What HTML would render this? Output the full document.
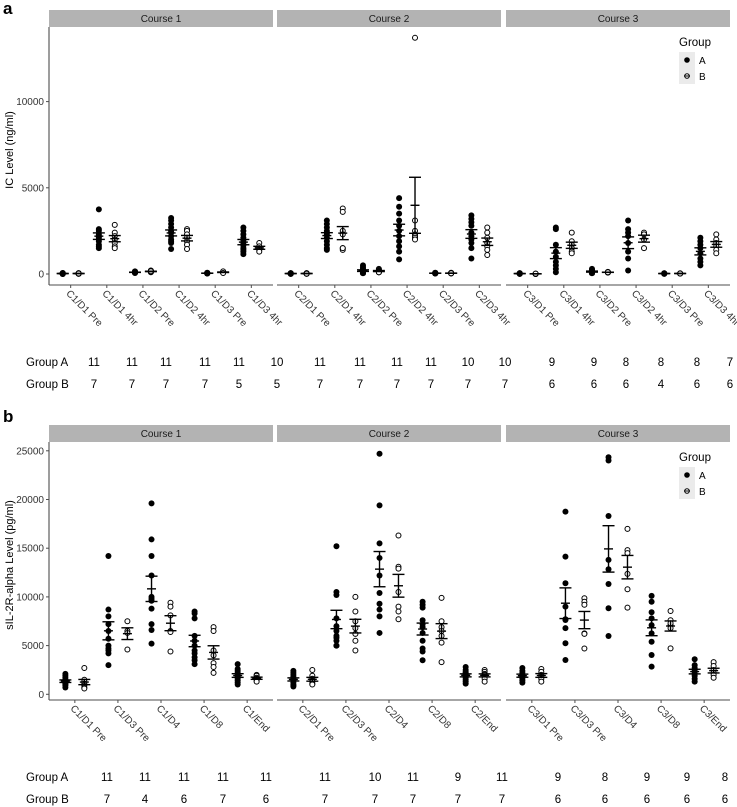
<!DOCTYPE html>
<html><head><meta charset="utf-8">
<style>
body{margin:0;background:#fff;}
svg{display:block;font-family:"Liberation Sans",Arial,sans-serif;}
.tk{font-size:10px;fill:#333;}
.tbl{font-size:11.5px;fill:#000;}
.strip{font-size:10px;fill:#1a1a1a;}
</style></head>
<body>
<svg id="chart" width="737" height="807" viewBox="0 0 737 807">
<text x="3" y="14" font-size="17" font-weight="bold">a</text>
<text x="3" y="422" font-size="17" font-weight="bold">b</text>
<text transform="translate(13,150) rotate(-90)" text-anchor="middle" font-size="11">IC Level (ng/ml)</text>
<text transform="translate(13,565) rotate(-90)" text-anchor="middle" font-size="11">sIL-2R-alpha Level (pg/ml)</text>
<g id="top"></g>
<g id="bot"></g>
<g>
<text class="tbl" x="26" y="366">Group A</text>
<text class="tbl" x="26" y="388">Group B</text>
</g>
<g>
<text class="tbl" x="26" y="781">Group A</text>
<text class="tbl" x="26" y="803">Group B</text>
</g>
</svg>
<script>
// ---------- data: panel a (IC level) ----------
const topCats = [
 ["C1/D1 Pre","C1/D1 4hr","C1/D2 Pre","C1/D2 4hr","C1/D3 Pre","C1/D3 4hr"],
 ["C2/D1 Pre","C2/D1 4hr","C2/D2 Pre","C2/D2 4hr","C2/D3 Pre","C2/D3 4hr"],
 ["C3/D1 Pre","C3/D1 4hr","C3/D2 Pre","C3/D2 4hr","C3/D3 Pre","C3/D3 4hr"]];
const topA = [
 [[0,10,20,30,40,50,20,10,30,40,60],[3750,2600,2500,2300,2100,2000,1900,1700,1600,1500,2200],[100,80,120,150,60,90,110,70,130,100,90],[3250,3100,2900,2700,2500,2400,2200,2000,1900,1800,1450],[50,40,60,30,70,50,40,60,50,30,40],[2700,2500,2300,2100,1950,1800,1650,1500,1400,1300,1150]],
 [[30,20,40,10,50,30,20,40,30,20,10],[3100,2900,2700,2500,2400,2300,2100,1900,1700,1500,1400],[500,400,300,250,200,150,100,100,50,50,50],[4400,3900,3500,3100,2800,2500,2200,1900,1600,1300,850],[50,40,60,30,70,50,40,60,50,30,40],[3400,3200,3000,2800,2400,2200,2000,1800,1500,900]],
 [[20,30,10,40,20,30,50,10,20],[2700,2600,1700,1300,1000,700,500,300,100],[300,250,200,150,100,100,50,50,50],[3100,2600,2400,2200,1800,1300,900,200],[30,20,40,10,30,20,40,30],[2100,1900,1700,1500,1200,900,700,500]]
];
const topB = [
 [[20,30,10,40,20,50,30],[2850,2400,2200,2000,1800,1600,1500],[150,120,180,200,100,140,160],[2600,2500,2300,2100,1900,1700,1450],[100,80,120,150,60],[1800,1600,1500,1400,1300]],
 [[30,20,40,10,50,30,20],[3800,3600,2500,2300,1500,1400,1500],[300,250,200,150,100,100,100],[13700,3100,2500,2300,2200,2100,2000],[50,40,60,30,70,50,40],[2700,2400,2100,1800,1600,1400,1100]],
 [[0,10,20,10,0,20],[2400,1900,1700,1500,1300,1200],[100,120,80,110,90,100],[2400,2300,2000,1500],[30,20,40,30],[2300,2000,1800,1600,1400,1200]]
];
const topTicks = [0,5000,10000];
const topCountA = [11,11,11,11,11,10,11,11,11,11,10,10,9,9,8,8,8,7];
const topCountB = [7,7,7,7,5,5,7,7,7,7,7,7,6,6,6,4,6,6];

// ---------- data: panel b (sIL-2R-alpha) ----------
const botCats = [
 ["C1/D1 Pre","C1/D3 Pre","C1/D4","C1/D8","C1/End"],
 ["C2/D1 Pre","C2/D3 Pre","C2/D4","C2/D8","C2/End"],
 ["C3/D1 Pre","C3/D3 Pre","C3/D4","C3/D8","C3/End"]];
const botA = [
 [[2100,1900,1700,1500,1400,1300,1200,1100,1000,900,700],[14200,8700,8000,7200,6500,5700,5000,4700,4500,4200,3000],[19600,15900,14200,12200,10000,9600,8800,7200,6600,5200,9800],[8500,8300,7800,6000,5500,5000,4500,4200,3800,3500,3100],[3100,2600,2400,2200,2000,1900,1800,1600,1400,1200,1000]],
 [[2400,2200,2000,1800,1600,1500,1400,1200,1000,900,800],[15200,10500,10200,7800,7000,6500,6000,5800,5500,5000,5000],[24700,19400,15500,14000,12200,10400,9300,8700,8000,6300],[9500,9200,8900,7600,6900,6300,4700,4400,3500,7200,5500],[2800,2500,2300,2200,2100,2000,1900,1700,1500,1300,1100]],
 [[2700,2400,2200,2000,1900,1800,1600,1400,1200],[18750,14130,11400,9000,7630,6800,5240,3520,7700],[24340,24000,18300,13800,12840,11330,8830,5990],[10100,9500,8420,7800,7100,6260,5400,4040,2840],[3600,3000,2700,2500,2300,2100,1900,1600,1300]]
];
const botB = [
 [[2700,1500,1300,1100,900,700,600],[7500,6500,6300,4600],[9400,9000,8100,6500,6400,4400],[6900,6500,4500,4000,3200,2800,2200],[2000,1900,1700,1600,1400,1300]],
 [[2500,1900,1600,1400,1300,1100,1000],[10000,8500,7500,6800,6200,5500,4500],[16300,13100,12900,10500,9000,8500,7700],[9900,7500,6900,6000,5300,3300,6500],[2500,2300,2100,2000,1800,1600,1300]],
 [[2600,2300,2000,1800,1600,1300],[9860,9500,9200,6260,6200,4700],[16980,14800,14500,12360,10780,8900],[8550,7600,7100,6800,4720,7300],[3300,2900,2500,2200,2000,1700]]
];
const botTicks = [0,5000,10000,15000,20000,25000];
const botCountA = [11,11,11,11,11,11,10,11,9,11,9,8,9,9,8];
const botCountB = [7,4,6,7,6,7,7,7,7,7,6,6,6,6,6];

const NS="http://www.w3.org/2000/svg";
function mk(parent,tag,attrs){const e=document.createElementNS(NS,tag);for(const k in attrs)e.setAttribute(k,attrs[k]);parent.appendChild(e);return e;}
const courseLeft=[49,277,506], courseW=224;

function drawPanel(g,cats,A,B,ticks,cfg){
  const yS=v=>cfg.y0-v*cfg.pxPer;
  for(let c=0;c<3;c++){
    const s=mk(g,'rect',{x:courseLeft[c],y:cfg.stripY,width:courseW,height:17,fill:'#b3b3b3'});
    
    
    const t=mk(g,'text',{x:courseLeft[c]+courseW/2,y:cfg.stripY+12,'text-anchor':'middle',class:'strip'});
    t.textContent='Course '+(c+1);
    
    
    const ax=mk(g,'line',{x1:courseLeft[c],x2:courseLeft[c]+courseW,y1:cfg.axisY,y2:cfg.axisY,stroke:'#4d4d4d','stroke-width':1.1});
    
    
  }
  const yl=mk(g,'line',{x1:49,x2:49,y1:cfg.stripY+17,y2:cfg.axisY,stroke:'#4d4d4d','stroke-width':1.1});
  
  
  ticks.forEach(v=>{
    mk(g,'line',{x1:46,x2:49,y1:yS(v),y2:yS(v),stroke:'#4d4d4d'});
    const t=mk(g,'text',{x:44,y:yS(v)+3.5,'text-anchor':'end',class:'tk'});
    t.textContent=v;
    
    
  });
  for(let c=0;c<3;c++){
    const n=cats[c].length, u=courseW/(n+0.2);
    for(let i=0;i<n;i++){
      const x=courseLeft[c]+(i+0.6)*u;
      mk(g,'line',{x1:x,x2:x,y1:cfg.axisY,y2:cfg.axisY+3,stroke:'#4d4d4d'});
      const t=mk(g,'text',{transform:`translate(${x-5},${cfg.axisY+9}) rotate(45)`,class:'tk'});
      t.textContent=cats[c][i];
      
      
      [[A,-1,'a'],[B,1,'b']].forEach(([D,sgn,grp])=>{
        const vals=D[c][i]; if(!vals) return;
        const px=x+sgn*0.22*u;
        vals.forEach(v=>{
          const p=mk(g,'circle',{cx:px,cy:yS(v),r:grp==='a'?3:2.5,fill:grp==='a'?'#000':'#fff',stroke:'#000','stroke-width':grp==='a'?0:1});
          
          
        });
        const m=vals.reduce((s,v)=>s+v,0)/vals.length;
        const sd=Math.sqrt(vals.reduce((s,v)=>s+(v-m)*(v-m),0)/(vals.length-1));
        const se=sd/Math.sqrt(vals.length);
        const eg=mk(g,'g',{stroke:'#000','stroke-width':1.4});
        
        
        mk(eg,'line',{x1:px,x2:px,y1:yS(m-se),y2:yS(m+se)});
        mk(eg,'line',{x1:px-6,x2:px+6,y1:yS(m-se),y2:yS(m-se)});
        mk(eg,'line',{x1:px-6,x2:px+6,y1:yS(m+se),y2:yS(m+se)});
        mk(eg,'line',{x1:px-4.5,x2:px+4.5,y1:yS(m),y2:yS(m)});
      });
    }
  }
  const lg=mk(g,'g',{});
  
  
  const lt=mk(lg,'text',{x:679,y:cfg.legY,'font-size':11.5});
  lt.textContent='Group';
  ['A','B'].forEach((k,j)=>{
    const y=cfg.legY+6+j*16;
    mk(lg,'rect',{x:679,y:y,width:16,height:16,fill:'#ebebeb'});
    const c=mk(lg,'circle',{cx:687,cy:y+8,r:k==='A'?2.8:2.3,fill:k==='A'?'#000':'#fff',stroke:'#000','stroke-width':k==='A'?0:1});
    
    
    if(k==='B') mk(lg,'line',{x1:684,x2:690,y1:y+8,y2:y+8,stroke:'#000','stroke-width':1});
    const tx=mk(lg,'text',{x:699,y:y+12,'font-size':10});
    tx.textContent=k;
    
    
  });
}
drawPanel(document.getElementById('top'),topCats,topA,topB,topTicks,{y0:274,pxPer:86.2/5000,stripY:10,axisY:285,legY:46});
drawPanel(document.getElementById('bot'),botCats,botA,botB,botTicks,{y0:694.3,pxPer:48.7/5000,stripY:425,axisY:700,legY:461});

const svg=document.getElementById('chart');
const topCountX=[94,132,166,205,239,277,320,360,397,431,468,505,552,594,626,661,697,730];
const botCountX=[107,145,184,223,266,325,375,413,458,502,558,605,647,687,725];
function counts(arr,xs,y,name){
  arr.forEach((v,i)=>{
    const t=mk(svg,'text',{x:xs[i],y:y,'text-anchor':'middle',class:'tbl'});
    t.textContent=v;
    
    
  });
}
counts(topCountA,topCountX,366,'top-count-group-a');
counts(topCountB,topCountX,388,'top-count-group-b');
counts(botCountA,botCountX,781,'bottom-count-group-a');
counts(botCountB,botCountX,803,'bottom-count-group-b');
</script>
</body></html>
